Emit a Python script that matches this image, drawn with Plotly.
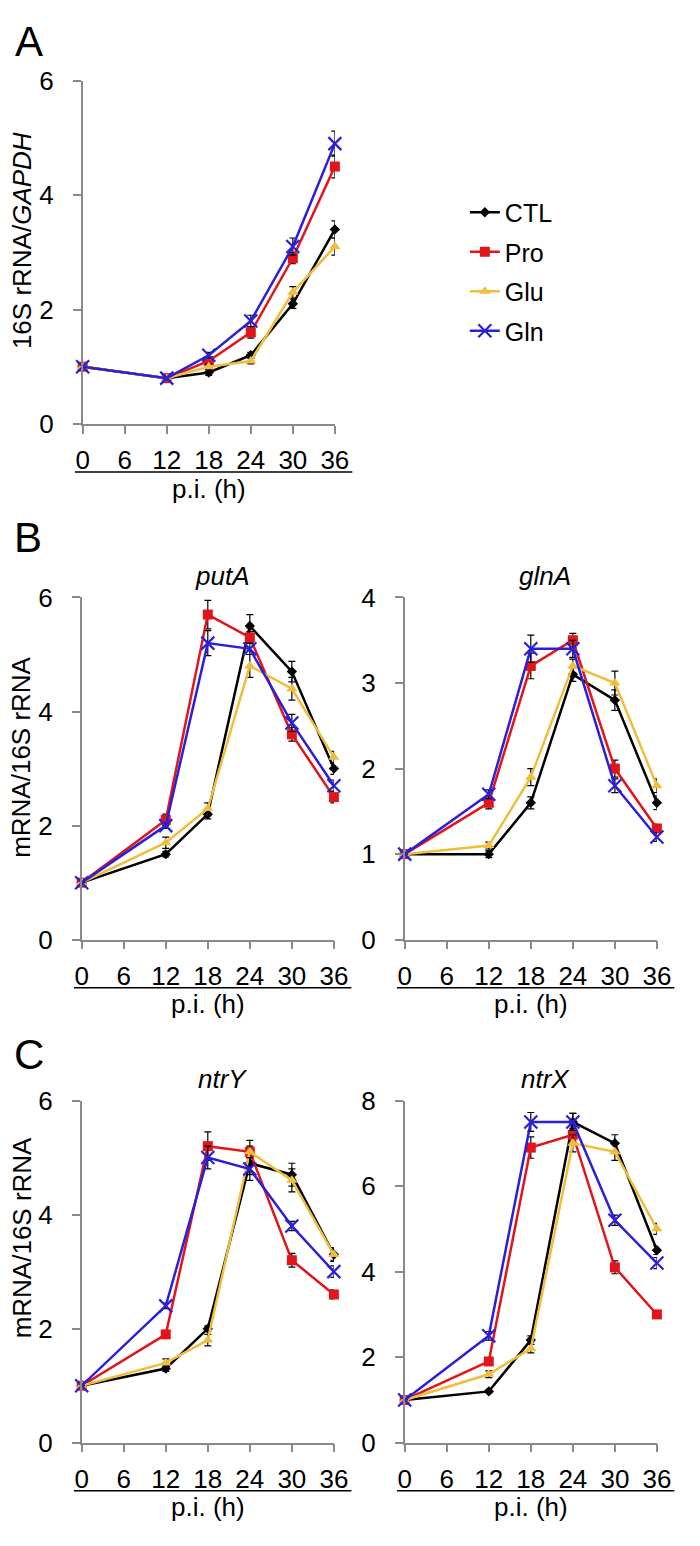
import plotly.graph_objects as go

W, H = 700, 1546

hours = [0, 12, 18, 24, 30, 36]
x_ticks = [0, 6, 12, 18, 24, 30, 36]
series = ["CTL", "Pro", "Glu", "Gln"]

# Panel A: 16S rRNA / GAPDH
A_CTL = [1.0, 0.8, 0.9, 1.2, 2.1, 3.4]
A_Pro = [1.0, 0.8, 1.1, 1.6, 2.9, 4.5]
A_Glu = [1.0, 0.8, 1.0, 1.1, 2.3, 3.1]
A_Gln = [1.0, 0.8, 1.2, 1.8, 3.1, 4.9]
A_CTL_err = [0, 0.03, 0.05, 0.05, 0.08, 0.15]
A_Pro_err = [0, 0.03, 0.05, 0.1, 0.1, 0.2]
A_Glu_err = [0, 0.03, 0.05, 0.05, 0.1, 0.15]
A_Gln_err = [0, 0.03, 0.05, 0.1, 0.15, 0.22]

# Panel B: putA
putA_CTL = [1.0, 1.5, 2.2, 5.5, 4.7, 3.0]
putA_Pro = [1.0, 2.1, 5.7, 5.3, 3.6, 2.5]
putA_Glu = [1.0, 1.7, 2.3, 4.8, 4.4, 3.2]
putA_Gln = [1.0, 2.0, 5.2, 5.1, 3.8, 2.7]
putA_CTL_err = [0, 0.05, 0.08, 0.2, 0.18, 0.1]
putA_Pro_err = [0, 0.1, 0.25, 0.1, 0.12, 0.1]
putA_Glu_err = [0, 0.1, 0.1, 0.2, 0.2, 0.1]
putA_Gln_err = [0, 0.05, 0.22, 0.1, 0.15, 0.1]

# Panel B: glnA
glnA_CTL = [1.0, 1.0, 1.6, 3.1, 2.8, 1.6]
glnA_Pro = [1.0, 1.6, 3.2, 3.5, 2.0, 1.3]
glnA_Glu = [1.0, 1.1, 1.9, 3.2, 3.0, 1.8]
glnA_Gln = [1.0, 1.7, 3.4, 3.4, 1.8, 1.2]
glnA_CTL_err = [0, 0.04, 0.07, 0.08, 0.12, 0.08]
glnA_Pro_err = [0, 0.07, 0.15, 0.08, 0.1, 0.05]
glnA_Glu_err = [0, 0.04, 0.1, 0.08, 0.14, 0.08]
glnA_Gln_err = [0, 0.05, 0.16, 0.1, 0.08, 0.05]

# Panel C: ntrY
ntrY_CTL = [1.0, 1.3, 2.0, 4.9, 4.7, 3.3]
ntrY_Pro = [1.0, 1.9, 5.2, 5.1, 3.2, 2.6]
ntrY_Glu = [1.0, 1.4, 1.8, 5.1, 4.6, 3.3]
ntrY_Gln = [1.0, 2.4, 5.0, 4.8, 3.8, 3.0]
ntrY_CTL_err = [0, 0.05, 0.05, 0.2, 0.2, 0.1]
ntrY_Pro_err = [0, 0.05, 0.25, 0.1, 0.12, 0.08]
ntrY_Glu_err = [0, 0.07, 0.1, 0.2, 0.2, 0.12]
ntrY_Gln_err = [0, 0.05, 0.2, 0.2, 0.08, 0.1]

# Panel C: ntrX
ntrX_CTL = [1.0, 1.2, 2.4, 7.5, 7.0, 4.5]
ntrX_Pro = [1.0, 1.9, 6.9, 7.2, 4.1, 3.0]
ntrX_Glu = [1.0, 1.6, 2.2, 7.0, 6.8, 5.0]
ntrX_Gln = [1.0, 2.5, 7.5, 7.5, 5.2, 4.2]
ntrX_CTL_err = [0, 0.03, 0.1, 0.2, 0.2, 0.1]
ntrX_Pro_err = [0, 0.05, 0.25, 0.15, 0.15, 0.07]
ntrX_Glu_err = [0, 0.08, 0.1, 0.2, 0.2, 0.13]
ntrX_Gln_err = [0, 0.1, 0.22, 0.2, 0.12, 0.13]

colors = {"CTL": "#000000", "Pro": "#E0161B", "Glu": "#F0BE3C", "Gln": "#2B1FD8"}
symbols = {"CTL": "diamond", "Pro": "square", "Glu": "triangle-up", "Gln": "x-thin"}
msizes = {"CTL": 8, "Pro": 10, "Glu": 10, "Gln": 13}

FONT = "Liberation Sans, Arial, sans-serif"
AXC = "#8a8a8a"
TICKFS = 26

panels = [
    ("", 78, 338, 67, 417, 6, 2,
     [A_CTL, A_Pro, A_Glu, A_Gln], [A_CTL_err, A_Pro_err, A_Glu_err, A_Gln_err],
     None, "16S rRNA/<i>GAPDH</i>", 230),
    ("2", 77, 337, 594, 943, 6, 2,
     [putA_CTL, putA_Pro, putA_Glu, putA_Gln], [putA_CTL_err, putA_Pro_err, putA_Glu_err, putA_Gln_err],
     "putA", "mRNA/16S rRNA", 757),
    ("3", 410, 670, 594, 943, 4, 1,
     [glnA_CTL, glnA_Pro, glnA_Glu, glnA_Gln], [glnA_CTL_err, glnA_Pro_err, glnA_Glu_err, glnA_Gln_err],
     "glnA", None, None),
    ("4", 77, 337, 1107, 1456, 6, 2,
     [ntrY_CTL, ntrY_Pro, ntrY_Glu, ntrY_Gln], [ntrY_CTL_err, ntrY_Pro_err, ntrY_Glu_err, ntrY_Gln_err],
     "ntrY", "mRNA/16S rRNA", 1247),
    ("5", 410, 670, 1107, 1456, 8, 2,
     [ntrX_CTL, ntrX_Pro, ntrX_Glu, ntrX_Gln], [ntrX_CTL_err, ntrX_Pro_err, ntrX_Glu_err, ntrX_Gln_err],
     "ntrX", None, None),
]


def px(x):
    return x / W


def py(y):
    return 1 - y / H


fig = go.Figure()
layout = {}
shapes = []
annotations = []

for pi_, (sfx, x0, x1, yt, yb, ymax, dt, data, errs, title, ytitle, ytc) in enumerate(panels):
    xa = "x" + sfx
    ya = "y" + sfx
    for si, name in enumerate(series):
        fig.add_trace(go.Scatter(
            x=hours, y=data[si], xaxis=xa, yaxis=ya,
            mode="lines+markers", name=name,
            legendgroup=name, showlegend=(pi_ == 0),
            line=dict(color=colors[name], width=2.5),
            marker=dict(symbol=symbols[name], size=msizes[name], color=colors[name],
                        line=dict(color=colors[name], width=2.2 if name == "Gln" else 0)),
            error_y=dict(type="data", array=errs[si], visible=True,
                         color="#000000", thickness=1.2, width=3.5),
            cliponaxis=False,
        ))
    layout["xaxis" + sfx] = dict(
        domain=[px(x0), px(x1)], anchor=ya, range=[0, 36],
        tickvals=x_ticks, ticktext=[str(v) for v in x_ticks],
        ticks="outside", ticklen=8, tickwidth=1.5, tickcolor=AXC,
        showline=True, linecolor=AXC, linewidth=1.5,
        showgrid=False, zeroline=False,
        tickfont=dict(size=TICKFS, color="#000000", family=FONT),
        ticklabelstandoff=4,
    )
    layout["yaxis" + sfx] = dict(
        domain=[py(yb), py(yt)], anchor=xa, range=[0, ymax],
        tick0=0, dtick=dt,
        ticks="outside", ticklen=8, tickwidth=1.5, tickcolor=AXC,
        showline=True, linecolor=AXC, linewidth=1.5,
        showgrid=False, zeroline=False,
        tickfont=dict(size=TICKFS, color="#000000", family=FONT),
        ticklabelstandoff=14,
    )
    shapes.append(dict(type="line", xref="paper", yref="paper",
                       x0=px(x0 - 8), x1=px(x1 + 18), y0=py(yb + 49), y1=py(yb + 49),
                       line=dict(color="#000000", width=1.5)))
    annotations.append(dict(text="p.i. (h)", xref="paper", yref="paper",
                             x=px((x0 + x1) / 2), y=py(yb + 66), showarrow=False,
                             xanchor="center", yanchor="middle",
                             font=dict(size=26, color="#000000", family=FONT)))
    if title:
        annotations.append(dict(text="<i>" + title + "</i>", xref="paper", yref="paper",
                                x=px((x0 + x1) / 2 + 15), y=py(yt - 22), showarrow=False,
                                xanchor="center", yanchor="middle",
                                font=dict(size=26, color="#000000", family=FONT)))
    if ytitle:
        annotations.append(dict(text=ytitle, xref="paper", yref="paper",
                                x=px(15), y=py(ytc), showarrow=False, textangle=-90,
                                xanchor="center", yanchor="middle",
                                font=dict(size=26, color="#000000", family=FONT)))

for letter, lx, ly in [("A", 23, 27), ("B", 22, 533), ("C", 23, 1060)]:
    annotations.append(dict(text=letter, xref="paper", yref="paper",
                            x=px(lx), y=py(ly), showarrow=False,
                            xanchor="center", yanchor="middle",
                            font=dict(size=42, color="#000000", family=FONT)))

fig.update_layout(
    width=W, height=H,
    margin=dict(l=0, r=0, t=0, b=0),
    paper_bgcolor="white", plot_bgcolor="white",
    font=dict(family=FONT, color="#000000"),
    showlegend=True,
    legend=dict(x=px(472), y=py(178), xanchor="left", yanchor="top",
                bgcolor="rgba(0,0,0,0)", borderwidth=0,
                font=dict(size=25, color="#000000", family=FONT),
                tracegroupgap=4, itemsizing="trace"),
    shapes=shapes,
    annotations=annotations,
    **layout,
)

fig.write_html(
    "out.html",
    config={"displayModeBar": False},
    post_script="document.body.style.margin='0';document.body.style.padding='0';document.body.style.overflow='hidden';",
)
